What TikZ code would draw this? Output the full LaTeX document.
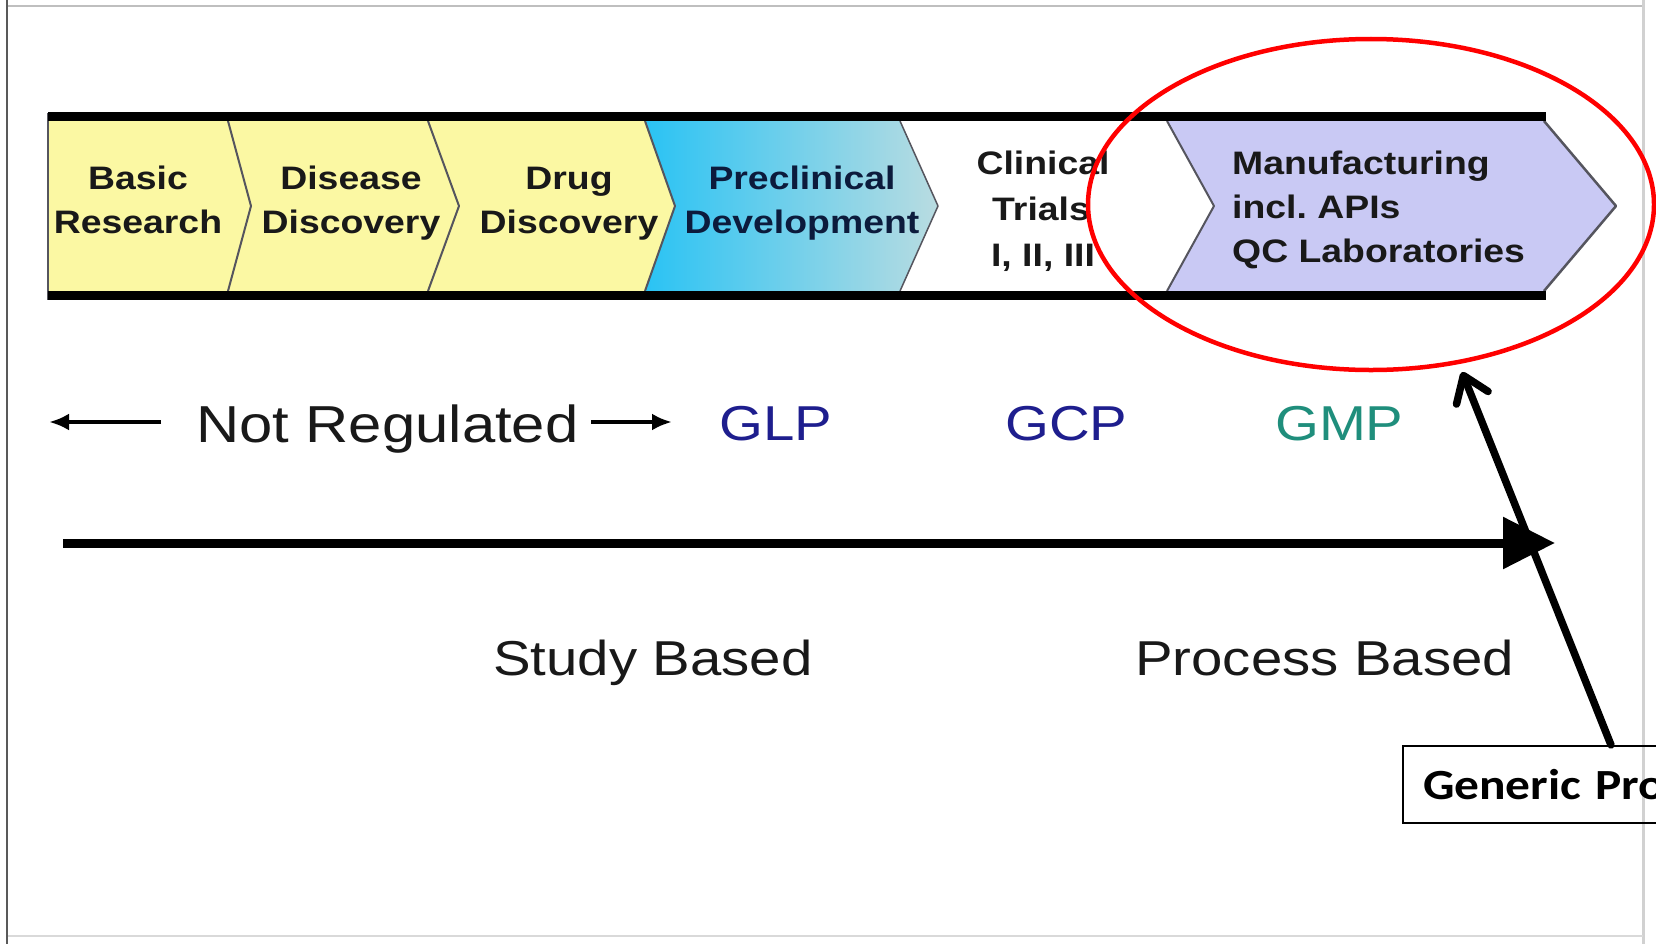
\documentclass[tikz,border=0pt]{standalone}
\usepackage{fontspec}
\usetikzlibrary{arrows.meta,shapes.geometric}
\newfontfamily\arw[FakeStretch=1.15]{Liberation Sans}
\newfontfamily\calw[FakeStretch=1.15]{Carlito}
\definecolor{chevy}{HTML}{FBF8A3}
\definecolor{precL}{HTML}{2AC3F4}
\definecolor{precR}{HTML}{B9DCE1}
\definecolor{manu}{HTML}{C9C9F4}
\definecolor{navyt}{HTML}{1E1E8E}
\definecolor{tealt}{HTML}{1F8E7C}
\definecolor{prectxt}{HTML}{0C1B3C}
\definecolor{edgeg}{HTML}{55555E}
\begin{document}
\begin{tikzpicture}[x=1bp,y=-1bp,
  chevtxt/.style={font=\arw\bfseries\fontsize{32.5bp}{40bp}\selectfont, inner sep=0pt, anchor=base, text=black!90},
  chevtxtl/.style={chevtxt, anchor=base west},
  bigtxt/.style={font=\arw\fontsize{49bp}{58bp}\selectfont, inner sep=0pt, anchor=base west, text=black!90},
  edgeline/.style={draw=edgeg, line width=2bp, line join=round},
  smallarr/.style={line width=4.5bp, -{Latex[length=20bp,width=17bp]}},
  bigarr/.style={line width=9bp, -{Triangle[length=52bp,width=50bp]}},
  ptr/.style={line width=7.5bp, line cap=round, -{Straight Barb[length=24bp,width=34bp,round]}},
  frameline/.style={line width=2bp}
]
\useasboundingbox (0,0) rectangle (1656,944);
\clip (0,0) rectangle (1656,944);
\fill[white] (0,0) rectangle (1656,944);
% frame
\draw[frameline, black!25] (7,6) -- (1643,6);
\draw[frameline, black!18, line width=3bp] (1643,0) -- (1643,944);
\draw[frameline, black!15] (7,936) -- (1643,936);
\draw[frameline, black!65] (7,0) -- (7,944);
% chevron fills
\fill[chevy] (48,121) -- (228,121) -- (251,206) -- (228,291) -- (48,291) -- cycle;
\fill[chevy] (228,121) -- (428,121) -- (459,206) -- (428,291) -- (228,291) -- (251,206) -- cycle;
\fill[chevy] (428,121) -- (645,121) -- (675,206) -- (645,291) -- (428,291) -- (459,206) -- cycle;
\shade[left color=precL, right color=precR] (645,121) -- (900,121) -- (938,206) -- (900,291) -- (645,291) -- (675,206) -- cycle;
\fill[white] (900,121) -- (1167,121) -- (1214,206) -- (1167,291) -- (900,291) -- (938,206) -- cycle;
\fill[manu] (1167,121) -- (1544,121) -- (1616,206) -- (1544,291) -- (1167,291) -- (1214,206) -- cycle;
% chevron edges
\draw[edgeline] (228,121) -- (251,206) -- (228,291);
\draw[edgeline] (428,121) -- (459,206) -- (428,291);
\draw[edgeline] (645,121) -- (675,206) -- (645,291);
\draw[edgeline, line width=1.5bp] (900,121) -- (938,206) -- (900,291);
\draw[edgeline] (1167,121) -- (1214,206) -- (1167,291);
\draw[edgeline, line width=2.5bp] (1544,121) -- (1616,206) -- (1544,291);
\draw[edgeline, line width=1.5bp] (48,113) -- (48,300);
% black bars
\fill[black] (48,112) rectangle (1546,121);
\fill[black] (48,291) rectangle (1546,300);
% chevron texts
\node[chevtxt] (br1) at (138,189) {Basic};
\node[chevtxt] (br2) at (138,233) {Research};
\node[chevtxt] (dd1) at (351,189) {Disease};
\node[chevtxt] (dd2) at (351,233) {Discovery};
\node[chevtxt] (dr1) at (569,189) {Drug};
\node[chevtxt] (dr2) at (569,233) {Discovery};
\node[chevtxt, text=prectxt] (pd1) at (802,189) {Preclinical};
\node[chevtxt, text=prectxt] (pd2) at (802,233) {Development};
\node[chevtxt] (ct1) at (1043,174) {Clinical};
\node[chevtxt] (ct2) at (1041,220) {Trials};
\node[chevtxt] (ct3) at (1043,266) {I, II, III};
\node[chevtxtl] (mf1) at (1232,174) {Manufacturing};
\node[chevtxtl] (mf2) at (1232,218) {incl.\ APIs};
\node[chevtxtl] (mf3) at (1232,262) {QC Laboratories};
% regulation row
\node[bigtxt, font=\arw\fontsize{52bp}{60bp}\selectfont] (nr) at (196,442) {Not Regulated};
\coordinate (nrLtail) at (161,422);
\coordinate (nrLtip) at (49,422);
\coordinate (nrRtail) at (591,422);
\coordinate (nrRtip) at (672,422);
\draw[smallarr] (nrLtail) -- (nrLtip);
\draw[smallarr] (nrRtail) -- (nrRtip);
\node[bigtxt, text=navyt] (glp) at (719,440) {GLP};
\node[bigtxt, text=navyt] (gcp) at (1005,440) {GCP};
\node[bigtxt, text=tealt] (gmp) at (1275,440) {GMP};
% time axis
\coordinate (axs) at (63,543);
\coordinate (axe) at (1555,543);
\draw[bigarr] (axs) -- (axe);
\node[bigtxt] (sb) at (493,675) {Study Based};
\node[bigtxt] (pb) at (1135,675) {Process Based};
% highlight ellipse
\node[draw=red, line width=4.5bp, ellipse, minimum width=566bp, minimum height=331bp, inner sep=0pt] (circ) at (1371,204.5) {};
% generic box
\node[draw=black, line width=2bp, anchor=north west, minimum height=77bp, text width=360bp, inner xsep=20bp, inner ysep=0pt, align=left, font=\calw\bfseries\fontsize{43bp}{48bp}\selectfont] (gbox) at (1402,745) {Generic Pro};
\coordinate (ghead) at (1462,372);
\draw[ptr] ([xshift=209bp]gbox.north west) -- (ghead);
\end{tikzpicture}
\end{document}
